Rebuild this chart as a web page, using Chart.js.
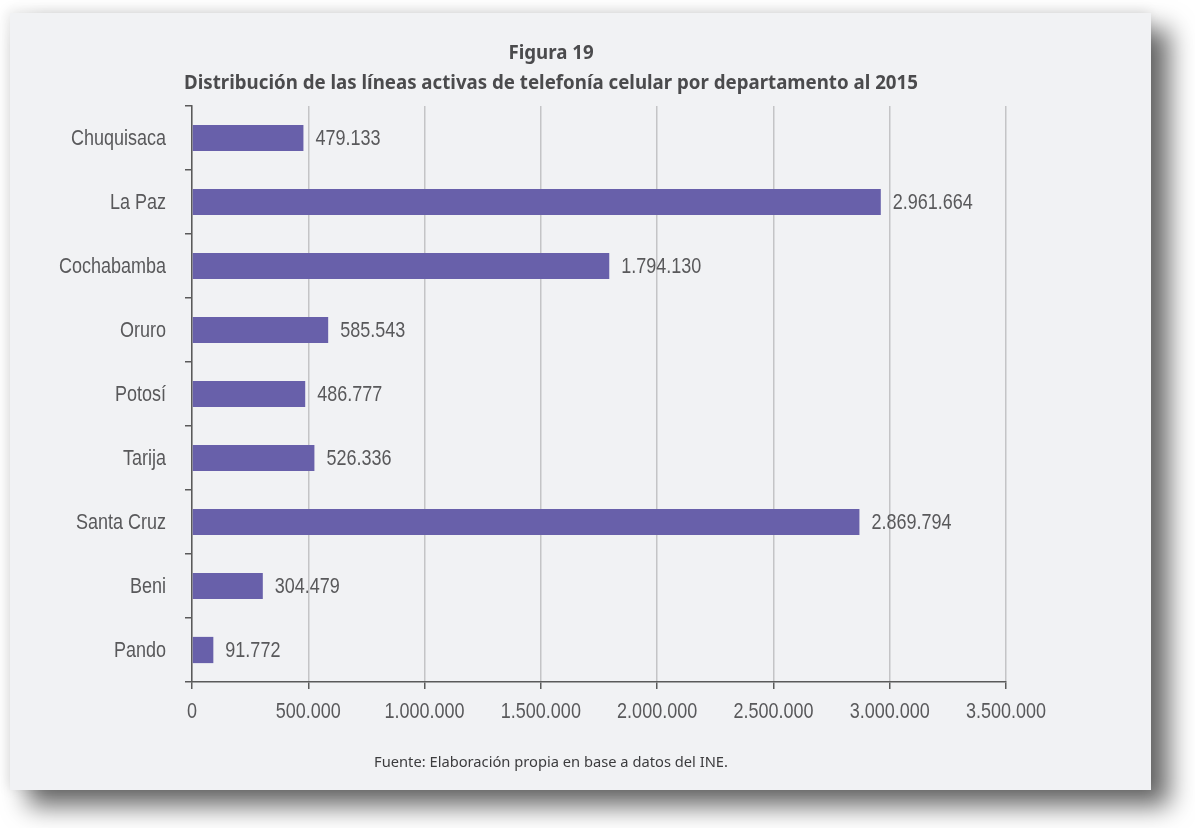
<!DOCTYPE html>
<html lang="es">
<head>
<meta charset="utf-8">
<script src="https://cdn.jsdelivr.net/npm/chart.js@4/dist/chart.umd.min.js"></script>
<style>
  html, body { margin: 0; padding: 0; background: #ffffff; width: 1195px; height: 828px; overflow: hidden; }
  #card {
    position: absolute; left: 10px; top: 13px; width: 1141px; height: 777px;
    background: #f1f2f4;
    box-shadow: 18px 16px 24px rgba(0,0,0,0.6), -2px -2px 12px rgba(0,0,0,0.10);
  }
  #wrap { position: absolute; left: 0; top: 0; width: 1195px; height: 828px; }
  .title {
    position: absolute; left: 151px; width: 800px; text-align: center;
    font-family: "Noto Sans", "Open Sans", sans-serif; font-weight: bold;
    font-size: 18.7px; color: #4b4b4d; line-height: 30px; top: 37px;
  }
  .source {
    position: absolute; left: 251px; width: 600px; text-align: center; top: 751px;
    font-family: "Noto Sans", "Open Sans", sans-serif; font-size: 14.7px; color: #3c3c3e;
  }
</style>
</head>
<body>
<div id="card"></div>
<div id="wrap"><canvas id="c" width="1195" height="828"></canvas></div>
<div class="title">Figura 19<br>Distribución de las líneas activas de telefonía celular por departamento al 2015</div>
<div class="source">Fuente: Elaboración propia en base a datos del INE.</div>
<script>
// Departamentos y líneas activas de telefonía celular (2015)
const departamentos = ["Chuquisaca", "La Paz", "Cochabamba", "Oruro", "Potosí", "Tarija", "Santa Cruz", "Beni", "Pando"];
const lineasActivas = [479133, 2961664, 1794130, 585543, 486777, 526336, 2869794, 304479, 91772];
const ejeMax = 3500000;
const ejePaso = 500000;

const fmt = v => String(Math.round(v)).replace(/\B(?=(\d{3})+(?!\d))/g, ".");
const labelFont = '18px "Liberation Sans", Arial, sans-serif';
const labelColor = "#59595b";
const stretchY = 1.25; // condensed look: letters taller than wide

function tallText(ctx, text, x, y, align) {
  ctx.save();
  ctx.translate(x, y);
  ctx.scale(1, stretchY);
  ctx.textAlign = align;
  ctx.textBaseline = "middle";
  ctx.fillText(text, 0, 0);
  ctx.restore();
}

// Rótulos de ejes y valores de cada barra
const textLabels = {
  id: "textLabels",
  afterDraw(chart) {
    const ctx = chart.ctx;
    ctx.save();
    ctx.font = labelFont;
    ctx.fillStyle = labelColor;
    const ys = chart.scales.y, xs = chart.scales.x;
    ys.ticks.forEach((t, i) => {
      tallText(ctx, departamentos[i], ys.right - 26, ys.getPixelForTick(i) + 1, "right");
    });
    xs.ticks.forEach((t, i) => {
      tallText(ctx, fmt(t.value), xs.getPixelForTick(i), xs.top + 30, "center");
    });
    chart.getDatasetMeta(0).data.forEach((bar, i) => {
      tallText(ctx, fmt(lineasActivas[i]), bar.x + 12, bar.y + 1, "left");
    });
    ctx.restore();
  }
};

new Chart(document.getElementById("c"), {
  type: "bar",
  data: {
    labels: departamentos,
    datasets: [{
      data: lineasActivas,
      backgroundColor: "#6860aa",
      borderWidth: 0,
      barPercentage: 0.41,
      categoryPercentage: 1
    }]
  },
  options: {
    indexAxis: "y",
    responsive: false,
    animation: false,
    layout: { padding: { top: 106, right: 189, bottom: 0, left: 0 } },
    plugins: { legend: { display: false }, tooltip: { enabled: false }, title: { display: false } },
    scales: {
      x: {
        min: 0, max: ejeMax,
        ticks: { stepSize: ejePaso, display: false },
        grid: { color: "#c4c4c6", lineWidth: 1.5, tickLength: 7, tickColor: "#5a5a5a", drawTicks: true },
        border: { color: "#5a5a5a", width: 1.5 },
        afterFit: s => { s.height = 828 - 682; }
      },
      y: {
        ticks: { display: false },
        grid: { drawOnChartArea: false, tickLength: 7, color: "#5a5a5a", lineWidth: 1.5 },
        border: { color: "#5a5a5a", width: 1.5 },
        afterFit: s => { s.width = 192; }
      }
    }
  },
  plugins: [textLabels]
});
</script>
</body>
</html>
